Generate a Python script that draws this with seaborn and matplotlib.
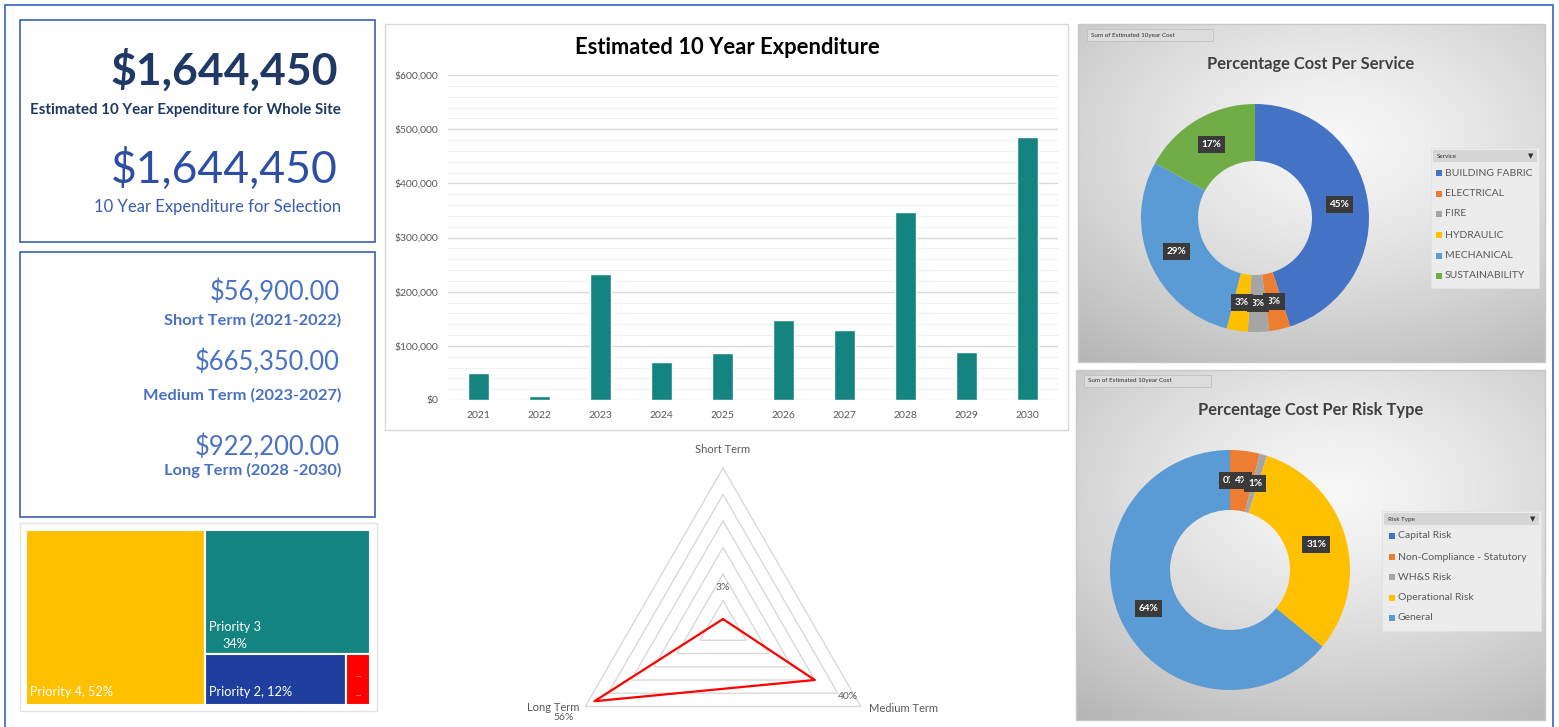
import numpy as np
import matplotlib
matplotlib.use("Agg")
import matplotlib.pyplot as plt
from matplotlib.patches import Rectangle
import seaborn as sns

# ---------------- data ----------------
years = ["2021", "2022", "2023", "2024", "2025", "2026", "2027", "2028", "2029", "2030"]
expenditure = [50000, 6900, 233000, 70000, 87000, 147000, 128350, 348000, 89000, 485200]

term_names = ["Short Term (2021-2022)", "Medium Term (2023-2027)", "Long Term (2028 -2030)"]
term_year_counts = [2, 5, 3]

priority_labels = ["Priority 4", "Priority 3", "Priority 2", "Priority 1"]
priority_pct = [52, 34, 12, 2]

service_labels = ["BUILDING FABRIC", "ELECTRICAL", "FIRE", "HYDRAULIC", "MECHANICAL", "SUSTAINABILITY"]
service_pct = [45, 3, 3, 3, 29, 17]

risk_labels = ["Capital Risk", "Non-Compliance - Statutory", "WH&S Risk", "Operational Risk", "General"]
risk_pct = [0, 4, 1, 31, 64]

radar_axes = ["Short Term", "Medium Term", "Long Term"]
radar_pct = [3, 40, 56]

# ---------------- style ----------------
sns.set_theme(style="white")
plt.rcParams['font.family'] = ['Lato', 'DejaVu Sans']

OFFICE = ["#4472C4", "#ED7D31", "#A5A5A5", "#FFC000", "#5B9BD5", "#70AD47"]
service_colors = OFFICE[:6]
risk_colors = ["#4472C4", "#ED7D31", "#A5A5A5", "#FFC000", "#5B9BD5"]
treemap_colors = ["#FFC000", "#148480", "#1F3F9E", "#FF0000"]
TEAL = "#158480"

W, H = 1559, 727
fig = plt.figure(figsize=(W / 100, H / 100), dpi=100)
fig.patch.set_facecolor("white")


def px_axes(x0, y0, x1, y1, **kw):
    return fig.add_axes([x0 / W, 1 - y1 / H, (x1 - x0) / W, (y1 - y0) / H], **kw)


def ftext(x, y, s, **kw):
    return fig.text(x / W, 1 - y / H, s, **kw)


def frect(x0, y0, x1, y1, ec="none", lw=1.0, fc="none", z=0):
    r = Rectangle((x0 / W, 1 - y1 / H), (x1 - x0) / W, (y1 - y0) / H,
                  transform=fig.transFigure, ec=ec, lw=lw, fc=fc, zorder=z,
                  clip_on=False)
    fig.add_artist(r)
    return r


# outer border
frect(5, 5, 1553, 745, ec="#4472C4", lw=1.3)

# ---------------- KPI boxes ----------------
frect(20, 20, 375, 242, ec="#4A6CB4", lw=1.3)
frect(20, 252, 375, 517, ec="#4A6CB4", lw=1.3)

total = sum(expenditure)
ftext(338, 70, f"${total:,.0f}", ha="right", va="center", fontsize=32,
      fontweight="bold", color="#1F3864")
ftext(341, 110, "Estimated 10 Year Expenditure for Whole Site", ha="right",
      va="center", fontsize=10.9, fontweight="bold", color="#1F3864")
ftext(338, 169, f"${total:,.0f}", ha="right", va="center", fontsize=32,
      color="#2C4FA3")
ftext(341, 207, "10 Year Expenditure for Selection", ha="right", va="center",
      fontsize=12, color="#3A5BB0")

term_totals = []
i = 0
for n in term_year_counts:
    term_totals.append(sum(expenditure[i:i + n]))
    i += n

val_y = [292, 362, 447]
lab_y = [320, 395, 470]
for tv, tn, vy, ly in zip(term_totals, term_names, val_y, lab_y):
    ftext(340, vy, f"${tv:,.2f}", ha="right", va="center", fontsize=18.4,
          color="#4A72C4")
    ftext(341, ly, tn, ha="right", va="center", fontsize=11.8,
          fontweight="bold", color="#4A70C2")

# ---------------- treemap ----------------
frect(20, 523, 377, 711, ec="#E3E3E3", lw=1.0)
axt = px_axes(26, 530, 370, 705)
axt.set_xlim(0, 1)
axt.set_ylim(0, 1)
axt.set_axis_off()
tot_p = sum(priority_pct)
w0 = priority_pct[0] / tot_p
rest = priority_pct[1:]
rest_sum = sum(rest)
h1 = rest[0] / rest_sum
rects = [(0, 0, w0, 1)]
rects.append((w0, 1 - h1, 1 - w0, h1))
bottom_sum = sum(rest[1:])
xx = w0
for v in rest[1:]:
    ww = (1 - w0) * v / bottom_sum
    rects.append((xx, 0, ww, 1 - h1))
    xx += ww
for (x, y, w, h), c in zip(rects, treemap_colors):
    axt.add_patch(Rectangle((x, y), w, h, fc=c, ec="white", lw=1.5))

tkw = dict(color="white", fontsize=9.2, textcoords="offset points")
axt.annotate(f"{priority_labels[0]}, {priority_pct[0]}%", (rects[0][0], rects[0][1]),
             xytext=(3, 9), va="center", ha="left", **tkw)
axt.annotate(priority_labels[1], (rects[1][0], rects[1][1]),
             xytext=(3, 19.5), va="center", ha="left", **tkw)
axt.annotate(f"{priority_pct[1]}%", (rects[1][0], rects[1][1]),
             xytext=(13, 7.5), va="center", ha="left", **tkw)
axt.annotate(f"{priority_labels[2]}, {priority_pct[2]}%", (rects[2][0], rects[2][1]),
             xytext=(3, 9), va="center", ha="left", **tkw)
axt.annotate("...", (rects[3][0] + rects[3][2] / 2, rects[3][1]),
             xytext=(0, 22), va="center", ha="center", color="white",
             fontsize=6, textcoords="offset points")
axt.annotate("...", (rects[3][0] + rects[3][2] / 2, rects[3][1]),
             xytext=(0, 8), va="center", ha="center", color="white",
             fontsize=6, textcoords="offset points")

# ---------------- bar chart ----------------
frect(385, 24, 1068, 430, ec="#D9D9D9", lw=1.0)
ftext(727, 48, "Estimated 10 Year Expenditure", ha="center", va="center",
      fontsize=15.8, fontweight="bold", color="black")
axb = px_axes(448, 75, 1058, 400)
sns.barplot(x=years, y=expenditure, color=TEAL, saturation=1, width=0.33,
            ax=axb)
axb.set_ylim(0, 600000)
axb.set_xlim(-0.5, 9.5)
axb.set_yticks(np.arange(0, 600001, 100000))
axb.set_yticks(np.arange(0, 600001, 20000), minor=True)
axb.set_yticklabels([f"${v:,.0f}" for v in np.arange(0, 600001, 100000)])
axb.grid(axis="y", which="major", color="#D9D9D9", lw=1.0)
axb.grid(axis="y", which="minor", color="#EFEFEF", lw=0.8)
axb.set_axisbelow(True)
for s in axb.spines.values():
    s.set_visible(False)
axb.tick_params(axis="both", which="both", length=0, labelsize=7.5,
                labelcolor="#595959")
axb.tick_params(axis="y", pad=7)
axb.tick_params(axis="x", pad=8)
axb.set_xlabel("")
axb.set_ylabel("")
axb.set_facecolor("none")

# ---------------- radar ----------------
axr = px_axes(564, 468, 882, 786, projection="polar")
axr.set_theta_offset(np.pi / 2)
axr.set_theta_direction(-1)
axr.set_ylim(0, 60)
axr.set_axis_off()
n = len(radar_axes)
thetas = [2 * np.pi * k / n for k in range(n)]
tc = thetas + [thetas[0]]
for r in range(10, 61, 10):
    axr.plot(tc, [r] * (n + 1), color="#D9D9D9", lw=1.0, clip_on=False)
axr.plot(tc, radar_pct + [radar_pct[0]], color="#FF0000", lw=1.6, clip_on=False)
lab_off = [(0, 13), (31, -1.5), (-23, -1)]
for th, name, off in zip(thetas, radar_axes, lab_off):
    axr.annotate(name, (th, 60), xytext=off, textcoords="offset points",
                 ha="center", va="center", fontsize=8, color="#595959",
                 annotation_clip=False)
val_off = [(0, 23), (24, -12), (-22, -12)]
for th, v, off in zip(thetas, radar_pct, val_off):
    axr.annotate(f"{v}%", (th, v), xytext=off, textcoords="offset points",
                 ha="center", va="center", fontsize=7.5, color="#595959",
                 annotation_clip=False)


# ---------------- donut panels ----------------
def gradient_panel(x0, y0, x1, y1):
    axg = px_axes(x0, y0, x1, y1)
    ny, nx = 200, 300
    yy, xg = np.mgrid[0:1:ny * 1j, 0:1:nx * 1j]
    d = np.sqrt(((xg - 0.55) * 1.0) ** 2 + ((yy - 0.35) * 1.1) ** 2)
    v = np.clip(0.97 - 0.30 * d ** 1.3, 0, 1)
    img = np.dstack([v, v, v])
    axg.imshow(img, aspect="auto", extent=(0, 1, 0, 1), origin="upper")
    axg.set_axis_off()
    frect(x0, y0, x1, y1, ec="#C8C8C8", lw=1.0, z=2)


def button(x0, y0, x1, y1, s):
    frect(x0, y0, x1, y1, ec="#C0C0C0", lw=0.6, fc="#DCDCDC", z=3)
    ftext(x0 + 4, (y0 + y1) / 2, s, ha="left", va="center", fontsize=4.5,
          color="#303030", zorder=4)


def donut(cx, cy, R, vals, colors):
    ax = px_axes(cx - R, cy - R, cx + R, cy + R)
    ax.pie(vals, colors=colors, startangle=90, counterclock=False,
           radius=1, wedgeprops=dict(width=0.5, lw=0))
    ax.set_xlim(-1, 1)
    ax.set_ylim(-1, 1)
    ax.set_axis_off()
    tot = sum(vals)
    cum = 0
    for v in vals:
        mid = (cum + v / 2) / tot * 2 * np.pi
        cum += v
        x, y = 0.75 * np.sin(mid), 0.75 * np.cos(mid)
        ax.text(x, y, f"{v}%", ha="center", va="center", fontsize=7.2,
                fontweight="bold", color="white",
                bbox=dict(boxstyle="square,pad=0.4", fc="#3A3A3A", ec="none"))
    return ax


def legend_box(x0, y0, x1, y1, header, labels, colors, ys, mx):
    frect(x0, y0, x1, y1, ec="#E2E2E2", lw=0.6, fc="#ECECEC", z=3)
    frect(x0 + 2, y0 + 2, x1 - 2, y0 + 14, ec="none", fc="#D6D6D6", z=3)
    ftext(x0 + 6, y0 + 8, header, ha="left", va="center", fontsize=4.5,
          color="#303030", zorder=4)
    ftext(x1 - 8, y0 + 8, "▼", ha="center", va="center", fontsize=5,
          color="#303030", family="DejaVu Sans", zorder=4)
    for lab, c, y in zip(labels, colors, ys):
        frect(mx - 3, y - 3, mx + 3, y + 3, fc=c, z=4)
        ftext(mx + 6, y, lab, ha="left", va="center", fontsize=7.5,
              color="#595959", zorder=4)


gradient_panel(1078, 24, 1545, 362)
button(1087, 29, 1213, 41, "Sum of Estimated 10year Cost")
ftext(1311, 64, "Percentage Cost Per Service", ha="center", va="center",
      fontsize=11.9, fontweight="bold", color="#404040")
donut(1255, 218, 114, service_pct, service_colors)
legend_box(1431, 148, 1539, 288, "Service", service_labels, service_colors,
           [173, 194, 214, 235, 256, 276], 1439)

gradient_panel(1076, 370, 1545, 720)
button(1084, 375, 1211, 387, "Sum of Estimated 10year Cost")
ftext(1311, 410, "Percentage Cost Per Risk Type", ha="center", va="center",
      fontsize=11.9, fontweight="bold", color="#404040")
donut(1230, 570, 120, risk_pct, risk_colors)
legend_box(1382, 511, 1541, 631, "Risk Type", risk_labels, risk_colors,
           [536, 557, 577, 598, 618], 1392)

fig.savefig("out.png", dpi=100)
